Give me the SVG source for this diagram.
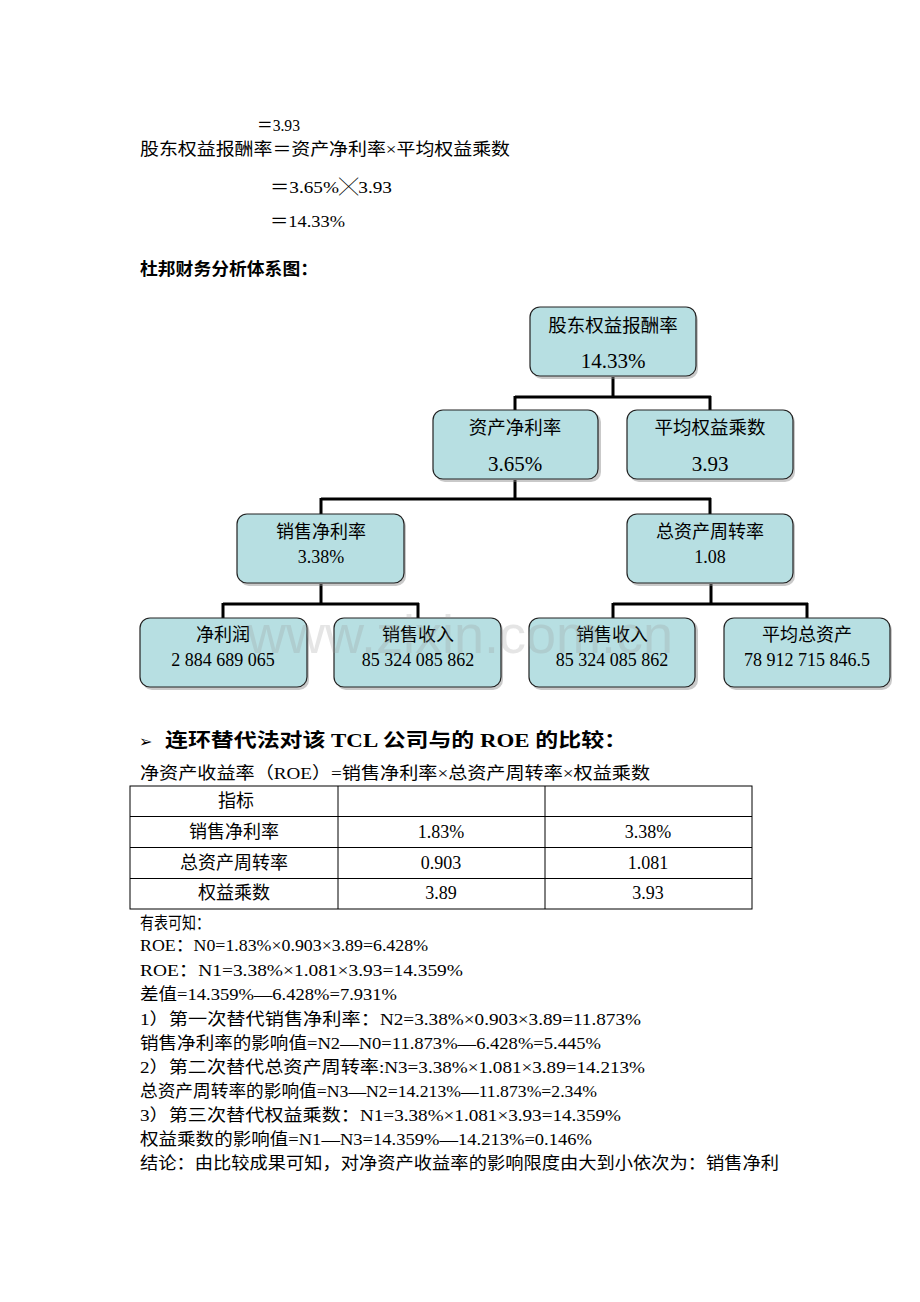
<svg xmlns="http://www.w3.org/2000/svg" width="920" height="1302" viewBox="0 0 920 1302">
<defs>
<style>
text{font-family:"Liberation Serif","Noto Sans CJK SC",serif;fill:#000}
.t{font-size:17px}
.a{font-size:16.5px}
.b{font-size:17px;font-weight:bold}
.h{font-size:19px;font-weight:bold}
.box{fill:#b7dfe2;stroke:#222;stroke-width:1.2}
.sh{fill:#888;opacity:0.45}
.bl{font-size:18.5px;text-anchor:middle}
.big{font-size:21px;text-anchor:middle}
.bs{font-size:18px;text-anchor:middle}
.c{fill:none;stroke:#000;stroke-width:3}
.tb{fill:none;stroke:#000;stroke-width:1}
.ct{font-size:18px;text-anchor:middle}
.wm{font-family:"Liberation Sans",sans-serif;font-size:54px;fill:#999;opacity:0.25}
</style>
</defs>
<rect width="920" height="1302" fill="#fff"/>

<g id="intro">
<text class="t" x="257" y="131" textLength="43" lengthAdjust="spacingAndGlyphs">＝3.93</text>
<text class="t" x="140" y="155" textLength="370" lengthAdjust="spacingAndGlyphs">股东权益报酬率＝资产净利率×平均权益乘数</text>
<text class="t" x="270" y="193" textLength="122" lengthAdjust="spacingAndGlyphs">＝3.65%╳3.93</text>
<text class="t" x="270" y="227" textLength="75" lengthAdjust="spacingAndGlyphs">＝14.33%</text>
<text class="b" x="140" y="275" textLength="178" lengthAdjust="spacingAndGlyphs">杜邦财务分析体系图：</text>
</g>

<g id="connectors">
<path class="c" d="M613,377 V397 M515,397 H711 M515,396 V410 M710,396 V410"/>
<path class="c" d="M515,480 V499 M321,499 H711 M321,498 V514 M710,498 V514"/>
<path class="c" d="M321,584 V604 M223,604 H419 M223,603 V618 M418,603 V618"/>
<path class="c" d="M711,584 V604 M613,604 H808 M613,603 V618 M807,603 V618"/>
</g>

<g id="n_roe">
<rect class="sh" x="532" y="310" width="166" height="69" rx="10"/>
<rect class="box" x="530" y="307" width="166" height="69" rx="10"/>
<text class="bl" x="613" y="332">股东权益报酬率</text>
<text class="big" x="613" y="368">14.33%</text>
</g>
<g id="n_roa">
<rect class="sh" x="435" y="412" width="166" height="70" rx="10"/>
<rect class="box" x="433" y="410" width="165" height="69" rx="10"/>
<text class="bl" x="515" y="434">资产净利率</text>
<text class="big" x="515" y="471">3.65%</text>
</g>
<g id="n_em">
<rect class="sh" x="629" y="412" width="166" height="70" rx="10"/>
<rect class="box" x="627" y="410" width="166" height="69" rx="10"/>
<text class="bl" x="710" y="434">平均权益乘数</text>
<text class="big" x="710" y="471">3.93</text>
</g>
<g id="n_npm">
<rect class="sh" x="239" y="516" width="167" height="70" rx="10"/>
<rect class="box" x="237" y="514" width="167" height="69" rx="10"/>
<text class="bs" x="321" y="538">销售净利率</text>
<text class="bs" x="321" y="563">3.38%</text>
</g>
<g id="n_tat">
<rect class="sh" x="629" y="516" width="166" height="70" rx="10"/>
<rect class="box" x="627" y="514" width="166" height="69" rx="10"/>
<text class="bs" x="710" y="538">总资产周转率</text>
<text class="bs" x="710" y="563">1.08</text>
</g>
<g id="n_np">
<rect class="sh" x="142" y="620" width="167" height="70" rx="10"/>
<rect class="box" x="140" y="618" width="167" height="69" rx="10"/>
<text class="bs" x="223" y="641">净利润</text>
<text class="bs" x="223" y="666">2 884 689 065</text>
</g>
<g id="n_rev1">
<rect class="sh" x="336" y="620" width="167" height="70" rx="10"/>
<rect class="box" x="334" y="618" width="167" height="69" rx="10"/>
<text class="bs" x="418" y="641">销售收入</text>
<text class="bs" x="418" y="666">85 324 085 862</text>
</g>
<g id="n_rev2">
<rect class="sh" x="531" y="620" width="167" height="70" rx="10"/>
<rect class="box" x="529" y="618" width="166" height="69" rx="10"/>
<text class="bs" x="612" y="641">销售收入</text>
<text class="bs" x="612" y="666">85 324 085 862</text>
</g>
<g id="n_ta">
<rect class="sh" x="726" y="620" width="166" height="70" rx="10"/>
<rect class="box" x="724" y="618" width="166" height="69" rx="10"/>
<text class="bs" x="807" y="641">平均总资产</text>
<text class="bs" x="807" y="666">78 912 715 846.5</text>
</g>

<g id="watermark">
<text class="wm" x="460" y="653" text-anchor="middle">www.zixin.com.cn</text>
</g>

<g id="section">
<text x="139" y="747" style="font-family:'DejaVu Sans',sans-serif;font-size:16px">➢</text>
<text class="h" x="165" y="747" textLength="462" lengthAdjust="spacingAndGlyphs">连环替代法对该 TCL 公司与的 ROE 的比较：</text>
<text class="t" x="140" y="779" textLength="510" lengthAdjust="spacingAndGlyphs">净资产收益率（ROE）=销售净利率×总资产周转率×权益乘数</text>
</g>

<g id="table">
<rect class="tb" x="130" y="786" width="622" height="123"/>
<path class="tb" d="M130,816.5 H752 M130,847.5 H752 M130,878.5 H752 M338,786 V909 M545,786 V909"/>
<text class="ct" x="236" y="807">指标</text>
<text class="ct" x="234" y="838">销售净利率</text>
<text class="ct" x="441" y="838">1.83%</text>
<text class="ct" x="648" y="838">3.38%</text>
<text class="ct" x="234" y="869">总资产周转率</text>
<text class="ct" x="441" y="869">0.903</text>
<text class="ct" x="648" y="869">1.081</text>
<text class="ct" x="234" y="899">权益乘数</text>
<text class="ct" x="441" y="899">3.89</text>
<text class="ct" x="648" y="899">3.93</text>
</g>

<g id="analysis">
<text class="a" x="140" y="929" textLength="70" lengthAdjust="spacingAndGlyphs">有表可知：</text>
<text class="a" x="140" y="951" textLength="288" lengthAdjust="spacingAndGlyphs">ROE：N0=1.83%×0.903×3.89=6.428%</text>
<text class="a" x="140" y="976" textLength="323" lengthAdjust="spacingAndGlyphs">ROE：N1=3.38%×1.081×3.93=14.359%</text>
<text class="a" x="140" y="1000" textLength="257" lengthAdjust="spacingAndGlyphs">差值=14.359%—6.428%=7.931%</text>
<text class="a" x="140" y="1025" textLength="501" lengthAdjust="spacingAndGlyphs">1）第一次替代销售净利率：N2=3.38%×0.903×3.89=11.873%</text>
<text class="a" x="140" y="1049" textLength="461" lengthAdjust="spacingAndGlyphs">销售净利率的影响值=N2—N0=11.873%—6.428%=5.445%</text>
<text class="a" x="140" y="1073" textLength="505" lengthAdjust="spacingAndGlyphs">2）第二次替代总资产周转率:N3=3.38%×1.081×3.89=14.213%</text>
<text class="a" x="140" y="1097" textLength="457" lengthAdjust="spacingAndGlyphs">总资产周转率的影响值=N3—N2=14.213%—11.873%=2.34%</text>
<text class="a" x="140" y="1121" textLength="481" lengthAdjust="spacingAndGlyphs">3）第三次替代权益乘数：N1=3.38%×1.081×3.93=14.359%</text>
<text class="a" x="140" y="1145" textLength="452" lengthAdjust="spacingAndGlyphs">权益乘数的影响值=N1—N3=14.359%—14.213%=0.146%</text>
<text class="a" x="140" y="1169" textLength="639" lengthAdjust="spacingAndGlyphs">结论：由比较成果可知，对净资产收益率的影响限度由大到小依次为：销售净利</text>
</g>
</svg>
